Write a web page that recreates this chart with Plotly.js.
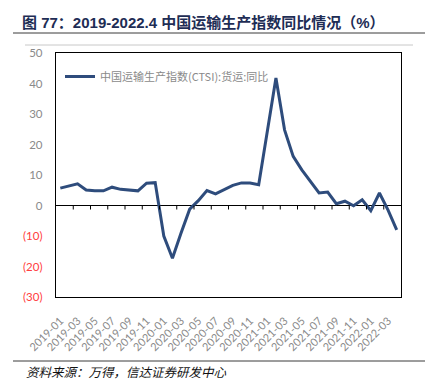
<!DOCTYPE html>
<html>
<head>
<meta charset="utf-8">
<script src="https://cdn.plot.ly/plotly-3.0.1.min.js"></script>
<style>html,body{margin:0;padding:0;background:#fff;}#chart{width:434px;height:389px;}</style>
</head>
<body>
<div id="chart"></div>
<script>
// months 2019-01 .. 2022-04
var months = [
  '2019-01','2019-02','2019-03','2019-04','2019-05','2019-06','2019-07','2019-08','2019-09','2019-10','2019-11','2019-12',
  '2020-01','2020-02','2020-03','2020-04','2020-05','2020-06','2020-07','2020-08','2020-09','2020-10','2020-11','2020-12',
  '2021-01','2021-02','2021-03','2021-04','2021-05','2021-06','2021-07','2021-08','2021-09','2021-10','2021-11','2021-12',
  '2022-01','2022-02','2022-03','2022-04'
];
// 中国运输生产指数(CTSI):货运:同比 (%)
var ctsiFreightYoY = [
  5.7, 6.5, 7.1, 5.1, 4.8, 4.8, 6.0, 5.3, 5.1, 4.8, 7.3, 7.5,
  -10.0, -17.3, -9.0, -1.2, 1.6, 4.9, 3.8, 5.1, 6.6, 7.4, 7.4, 6.8,
  24.3, 41.8, 24.8, 16.1, 11.7, 7.9, 4.1, 4.4, 0.6, 1.4, -0.1, 1.9,
  -1.7, 4.1, -1.5, -8.0
];
var seriesName = '中国运输生产指数(CTSI):货运:同比';
var xTickLabels = months.filter(function(m, i){ return i % 2 === 0; });
var yTickVals = [50, 40, 30, 20, 10, 0, -10, -20, -30];
var yTickText = yTickVals.map(function(v){
  return v < 0 ? '<span style="color:#ff4040">(' + Math.abs(v) + ')</span>' : String(v);
});

var L = 56, R = 33, T = 53, B = 92, W = 434, H = 389;
var pw = W - L - R, ph = H - T - B;
function px(x){ return (x - L) / pw; }
function py(y){ return (H - B - y) / ph; }

var trace = {
  x: months, y: ctsiFreightYoY, type: 'scatter', mode: 'lines', name: seriesName,
  line: {color: '#2e4c7c', width: 3}, showlegend: true
};

var shapes = [
  {type: 'line', xref: 'paper', yref: 'paper', x0: px(13), x1: px(425), y0: py(33), y1: py(33), line: {color: '#3a3a3a', width: 1}},
  {type: 'line', xref: 'paper', yref: 'paper', x0: px(25), x1: px(413), y0: py(45), y1: py(45), line: {color: '#c8c8c8', width: 1}},
  {type: 'line', xref: 'paper', yref: 'paper', x0: px(13), x1: px(425), y0: py(361), y1: py(361), line: {color: '#3a3a3a', width: 1}}
];
// tick marks hanging under the zero line, every two months at category boundaries
for (var k = 1; k < months.length - 1; k += 2) {
  shapes.push({type: 'line', xref: 'x', yref: 'y', ysizemode: 'pixel', yanchor: 0,
    x0: k + 0.5, x1: k + 0.5, y0: 0, y1: -4, line: {color: '#000', width: 1}});
}

var layout = {
  width: W, height: H,
  margin: {l: L, r: R, t: T, b: B, pad: 0},
  paper_bgcolor: '#fff', plot_bgcolor: '#fff',
  font: {family: 'Lato, "Noto Sans CJK SC", sans-serif', size: 11, color: '#808080'},
  title: {
    text: '<b>图 77：2019-2022.4 中国运输生产指数同比情况（%）</b>',
    font: {family: '"Liberation Sans", "Noto Sans CJK SC", sans-serif', size: 15, color: '#1e2d55'},
    x: 22 / W, xanchor: 'left', xref: 'container',
    y: 1 - 23 / H, yanchor: 'middle', yref: 'container'
  },
  xaxis: {
    type: 'category', range: [-0.5, months.length - 0.5],
    tickmode: 'array', tickvals: xTickLabels, ticktext: xTickLabels,
    tickangle: -45, ticks: '', ticklabelstandoff: 12,
    tickfont: {family: 'Lato, sans-serif', size: 11, color: '#8a8a8a'},
    showline: true, linecolor: '#000', linewidth: 1.2, mirror: true,
    showgrid: false, zeroline: false, fixedrange: true
  },
  yaxis: {
    range: [-30, 50], tickmode: 'array', tickvals: yTickVals, ticktext: yTickText,
    ticks: '', ticklabelstandoff: 10,
    tickfont: {family: 'Lato, sans-serif', size: 11.5, color: '#8a8a8a'},
    showline: true, linecolor: '#000', linewidth: 1.2, mirror: true,
    showgrid: false, zeroline: true, zerolinecolor: '#000', zerolinewidth: 1.2, fixedrange: true
  },
  legend: {
    x: px(60), xanchor: 'left', y: py(62), yanchor: 'top',
    bgcolor: 'rgba(0,0,0,0)', borderwidth: 0,
    font: {family: '"Noto Sans CJK SC", Lato, sans-serif', size: 11, color: '#8a8a8a'}
  },
  shapes: shapes,
  annotations: [
    {xref: 'paper', yref: 'paper', x: px(24), y: py(371), xanchor: 'left', yanchor: 'middle', showarrow: false,
     text: '<i>资料来源：万得，信达证券研发中心</i>',
     font: {family: '"Noto Sans CJK SC", sans-serif', size: 12.5, color: '#111'}}
  ]
};

Plotly.newPlot('chart', [trace], layout, {displayModeBar: false, staticPlot: true});
</script>
</body>
</html>
